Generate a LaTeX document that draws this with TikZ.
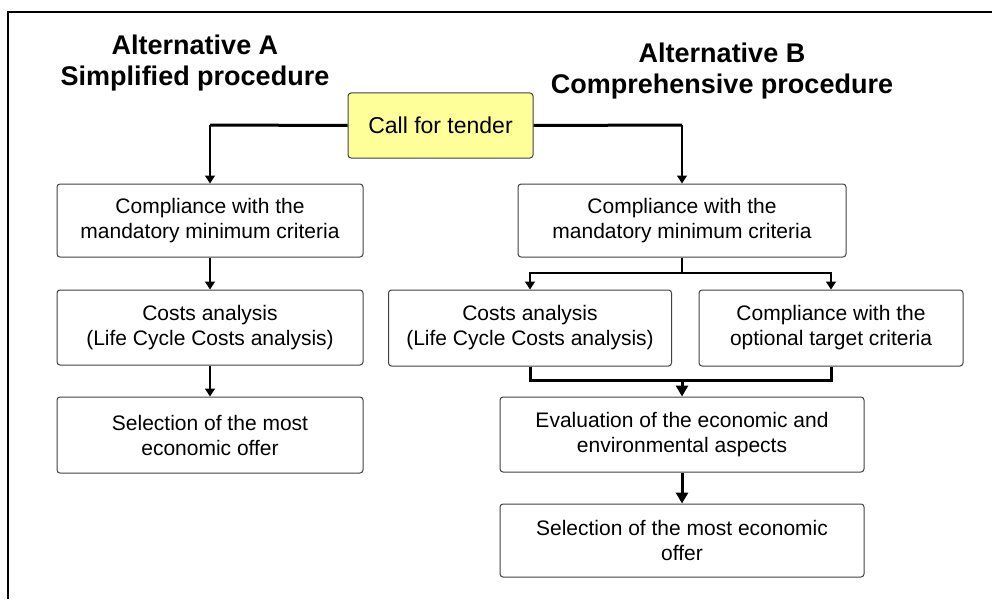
\documentclass[tikz,border=0pt]{standalone}
\usepackage{fontspec}
\setmainfont{Liberation Sans}
\usetikzlibrary{arrows.meta}
\tikzset{
 box/.style={draw=black!75,line width=1pt,rounded corners=3pt,align=center,inner sep=0pt,font=\fontsize{21}{25}\selectfont},
 heading/.style={align=center,font=\bfseries\fontsize{27}{31}\selectfont},
 flow/.style={line width=1.3pt,-{Triangle[length=8pt,width=10pt]}},
 bigflow/.style={line width=3pt,-{Triangle[length=11pt,width=12pt]}},
 bus/.style={line width=3pt}
}
\begin{document}
\begin{tikzpicture}[x=1pt,y=-1pt]
 \useasboundingbox (0,0) rectangle (992,599);
 \draw[line width=2pt](8,599)--(8,12)--(992,12);
 \node[heading] (tA) at (195,63) {Alternative A\\Simplified procedure};
 \node[heading] (tB) at (722,71) {Alternative B\\Comprehensive procedure};
 \node[box,fill={rgb,255:red,255;green,255;blue,153},minimum width=185pt,minimum height=65pt,font=\fontsize{23}{25}\selectfont] (call) at (440.5,125.5) {Call for tender};
 \node[box,minimum width=306pt,minimum height=73pt] (a1) at (210,220.5) {Compliance with the\\mandatory minimum criteria};
 \node[box,minimum width=306pt,minimum height=75pt] (a2) at (210,327.5) {Costs analysis\\(Life Cycle Costs analysis)};
 \node[box,minimum width=306pt,minimum height=76pt] (a3) at (210,435) {Selection of the most\\economic offer};
 \node[box,minimum width=328pt,minimum height=73pt] (b1) at (682,220.5) {Compliance with the\\mandatory minimum criteria};
 \node[box,minimum width=283pt,minimum height=76pt] (b2) at (530,328) {Costs analysis\\(Life Cycle Costs analysis)};
 \node[box,minimum width=264pt,minimum height=76pt] (b3) at (831,328) {Compliance with the\\optional target criteria};
 \node[box,minimum width=364pt,minimum height=75pt] (b4) at (682,434.5) {Evaluation of the economic and\\environmental aspects};
 \node[box,minimum width=364pt,minimum height=73pt] (b5) at (682,540.5) {Selection of the most economic\\offer};
 \coordinate (ca) at (210,125);
 \coordinate (cb) at (682,125);
 \coordinate (sp) at (682,273);
 \coordinate (mg) at (682,380);
 \draw[bus](call.west)--(ca);
 \draw[flow](ca)--(a1.north);
 \draw[flow](a1.south)--(a2.north);
 \draw[flow](a2.south)--(a3.north);
 \draw[bus](call.east)--(cb);
 \draw[flow](cb)--(b1.north);
 \draw[line width=1.3pt](b1.south)--(sp);
 \draw[flow](sp)-|(b2.north);
 \draw[flow](sp)-|(b3.north);
 \draw[bus](b2.south)--(b2.south|-mg)--(b3.south|-mg)--(b3.south);
 \draw[bigflow](mg)--(b4.north);
 \draw[bigflow](b4.south)--(b5.north);
\end{tikzpicture}
\end{document}
